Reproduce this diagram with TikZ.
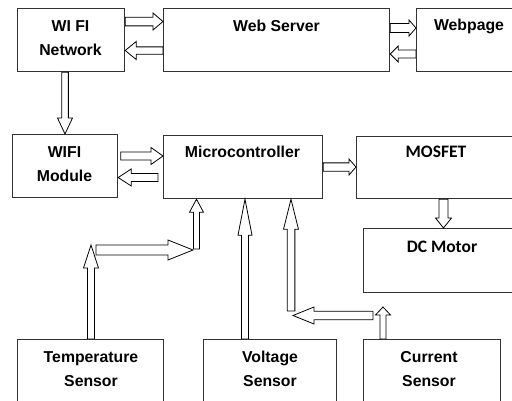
\documentclass[tikz,border=0pt]{standalone}
\usepackage{fontspec}
\setmainfont{Liberation Sans}
\newfontfamily\calfont{Carlito}
\usetikzlibrary{calc}
\tikzset{
  box/.style={draw=black!80, line width=1.2pt, rectangle, inner sep=0pt, anchor=north west},
  blk/.style={draw=black, line width=0.8pt, fill=white, line join=miter},
  lbl/.style={font=\bfseries\fontsize{15.8}{24}\selectfont, align=center, inner sep=0pt},
  lblc/.style={font=\calfont\bfseries\fontsize{17.5}{21}\selectfont, inner sep=0pt},
}
% hollow block arrow: from, to, shaft width, head width, head length
\newcommand\blkarrow[5]{%
  \path (#1) coordinate (blkA) (#2) coordinate (blkB);
  \pgfpointdiff{\pgfpointanchor{blkA}{center}}{\pgfpointanchor{blkB}{center}}%
  \pgfgetlastxy{\blkdx}{\blkdy}%
  \pgfmathsetmacro\blkang{atan2(\blkdy,\blkdx)}%
  \pgfmathsetmacro\blklen{veclen(\blkdx,\blkdy)}%
  \draw[blk, shift={(blkA)}, rotate=\blkang]
    (0,-#3/2) -- ({\blklen-#5},-#3/2) -- ({\blklen-#5},-#4/2) -- (\blklen,0)
    -- ({\blklen-#5},#4/2) -- ({\blklen-#5},#3/2) -- (0,#3/2) -- cycle;
}
\begin{document}
\begin{tikzpicture}[x=1pt,y=-1pt]
\useasboundingbox (0,0) rectangle (512,400);
\clip (0,0) rectangle (512,400);
\fill[white] (0,0) rectangle (512,400);

% boxes
\node[box, minimum width=107pt, minimum height=63pt] (wifi) at (17,8) {};
\node[box, minimum width=226pt, minimum height=63pt] (web) at (163,8) {};
\node[box, minimum width=130pt, minimum height=63pt] (page) at (416,8) {};
\node[box, minimum width=105pt, minimum height=63pt] (mod) at (12,134) {};
\node[box, minimum width=159pt, minimum height=63pt] (mcu) at (163,135) {};
\node[box, minimum width=180pt, minimum height=62pt] (mos) at (356,136) {};
\node[box, minimum width=170pt, minimum height=64pt] (dcm) at (363,228) {};
\node[box, minimum width=146pt, minimum height=90pt] (temp) at (17,339) {};
\node[box, minimum width=133pt, minimum height=90pt] (volt) at (203,339) {};
\node[box, minimum width=137pt, minimum height=90pt] (cur) at (363,339) {};

% labels
\node[lbl] (wifit) at (70.5,38) {WI FI\\Network};
\node[lbl] (webt) at (276.5,26) {Web Server};
\node[lbl] (paget) at (469,26) {Webpage};
\node[lbl] (modt) at (64.5,164) {WIFI\\Module};
\node[lbl] (mcut) at (242.5,152) {Microcontroller};
\node[lblc] (most) at (436,152) {MOSFET};
\node[lblc] (dcmt) at (442,247) {DC Motor};
\node[lbl] (tempt) at (91,369) {Temperature\\Sensor};
\node[lbl] (voltt) at (270,369) {Voltage\\Sensor};
\node[lbl] (curt) at (429,369) {Current\\Sensor};

% arrows
\blkarrow{wifi.east |- 0,21.5}{web.west |- 0,21.5}{8.7}{17}{10}
\blkarrow{web.west |- 0,50.5}{wifi.east |- 0,50.5}{7.3}{18}{11}
\blkarrow{web.east |- 0,28}{page.west |- 0,28}{9}{16}{7}
\blkarrow{page.west |- 0,54}{web.east |- 0,54}{8}{16}{8}
\blkarrow{65,0 |- wifi.south}{65,0 |- mod.north}{6.7}{15}{16}
\blkarrow{120.7,156}{mcu.west |- 0,156}{8}{17}{12}
\blkarrow{158,177.5}{mod.east |- 0,177.5}{8}{17}{13}
\blkarrow{mcu.east |- 0,167}{mos.west |- 0,167}{8.3}{16}{7}
\blkarrow{443.5,0 |- mos.south}{443.5,0 |- dcm.north}{9}{16}{10}
% temperature path
\blkarrow{91,0 |- temp.north}{91,245}{7}{15}{23}
\coordinate (tcorner) at (196.5,249);
\blkarrow{tcorner}{196.5,0 |- mcu.south}{6}{14}{13}
\blkarrow{96,250}{193,250}{10}{20}{25}
% voltage path
\blkarrow{245,0 |- volt.north}{245,0 |- mcu.south}{7}{14}{36}
% current path
\blkarrow{383,0 |- cur.north}{383,307}{6}{15}{8}
\coordinate (ccorner) at (291,311);
\blkarrow{ccorner}{291,0 |- mcu.south}{7.7}{15}{30}
\blkarrow{373,315.5}{293,315.5}{8.5}{17}{21}
\end{tikzpicture}
\end{document}
